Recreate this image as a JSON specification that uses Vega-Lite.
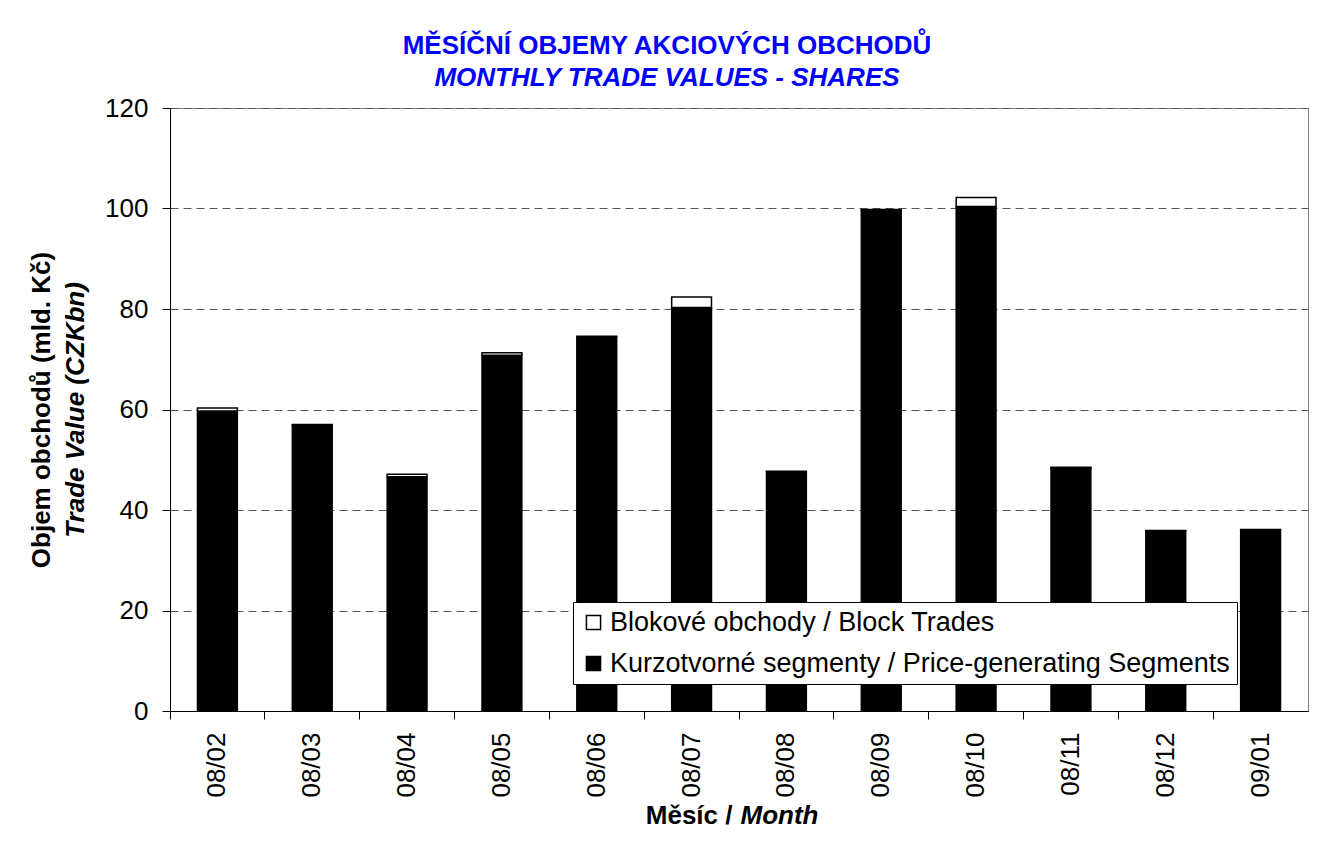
{
  "$schema": "https://vega.github.io/schema/vega-lite/v6.json",
  "width": 1138,
  "height": 603,
  "autosize": {"type": "none"},
  "padding": {"left": 170, "top": 108, "right": 18, "bottom": 132},
  "background": "white",
  "config": {
    "font": "Liberation Sans",
    "view": {"stroke": "#808080", "strokeWidth": 1}
  },
  "title": {
    "text": "MĚSÍČNÍ OBJEMY AKCIOVÝCH OBCHODŮ",
    "subtitle": "MONTHLY TRADE VALUES - SHARES",
    "color": "#0000ff",
    "subtitleColor": "#0000ff",
    "font": "Liberation Sans",
    "subtitleFont": "Liberation Sans",
    "fontSize": 26,
    "subtitleFontSize": 26,
    "fontWeight": "bold",
    "subtitleFontWeight": "bold",
    "subtitleFontStyle": "italic",
    "anchor": "middle",
    "frame": "group",
    "dx": -72,
    "offset": 4,
    "subtitlePadding": 6
  },
  "data": {
    "values": [
      {"month": "08/02", "segment": "Kurzotvorné segmenty / Price-generating Segments", "value": 59.7},
      {"month": "08/02", "segment": "Blokové obchody / Block Trades", "value": 0.6},
      {"month": "08/03", "segment": "Kurzotvorné segmenty / Price-generating Segments", "value": 56.9},
      {"month": "08/03", "segment": "Blokové obchody / Block Trades", "value": 0.1},
      {"month": "08/04", "segment": "Kurzotvorné segmenty / Price-generating Segments", "value": 46.6},
      {"month": "08/04", "segment": "Blokové obchody / Block Trades", "value": 0.5},
      {"month": "08/05", "segment": "Kurzotvorné segmenty / Price-generating Segments", "value": 70.8},
      {"month": "08/05", "segment": "Blokové obchody / Block Trades", "value": 0.5},
      {"month": "08/06", "segment": "Kurzotvorné segmenty / Price-generating Segments", "value": 74.5},
      {"month": "08/06", "segment": "Blokové obchody / Block Trades", "value": 0.1},
      {"month": "08/07", "segment": "Kurzotvorné segmenty / Price-generating Segments", "value": 80.3},
      {"month": "08/07", "segment": "Blokové obchody / Block Trades", "value": 2.1},
      {"month": "08/08", "segment": "Kurzotvorné segmenty / Price-generating Segments", "value": 47.6},
      {"month": "08/08", "segment": "Blokové obchody / Block Trades", "value": 0.1},
      {"month": "08/09", "segment": "Kurzotvorné segmenty / Price-generating Segments", "value": 99.6},
      {"month": "08/09", "segment": "Blokové obchody / Block Trades", "value": 0.2},
      {"month": "08/10", "segment": "Kurzotvorné segmenty / Price-generating Segments", "value": 100.4},
      {"month": "08/10", "segment": "Blokové obchody / Block Trades", "value": 1.8},
      {"month": "08/11", "segment": "Kurzotvorné segmenty / Price-generating Segments", "value": 48.4},
      {"month": "08/11", "segment": "Blokové obchody / Block Trades", "value": 0.1},
      {"month": "08/12", "segment": "Kurzotvorné segmenty / Price-generating Segments", "value": 35.8},
      {"month": "08/12", "segment": "Blokové obchody / Block Trades", "value": 0.1},
      {"month": "09/01", "segment": "Kurzotvorné segmenty / Price-generating Segments", "value": 36.0},
      {"month": "09/01", "segment": "Blokové obchody / Block Trades", "value": 0.1}
    ]
  },
  "layer": [
    {
      "mark": {"type": "bar", "stroke": "black", "strokeWidth": 1.5, "width": {"band": 0.42}},
      "encoding": {
        "x": {
          "field": "month",
          "type": "ordinal",
          "sort": null,
          "scale": {"paddingInner": 0, "paddingOuter": 0},
          "axis": {
            "title": "Měsíc /",
            "titleFontSize": 26,
            "titleFontWeight": "bold",
            "titleColor": "black",
            "titleAlign": "right",
            "titleBaseline": "middle",
            "titleX": 562,
            "titleY": 104,
            "labelAngle": -90,
            "labelFontSize": 26,
            "labelColor": "black",
            "labelPadding": 21,
            "ticks": false,
            "tickSize": 0,
            "domainColor": "black",
            "domainWidth": 1,
            "grid": false
          }
        },
        "y": {
          "field": "value",
          "type": "quantitative",
          "stack": "zero",
          "scale": {"domain": [0, 120], "nice": false},
          "axis": {
            "values": [0, 20, 40, 60, 80, 100, 120],
            "title": "Objem obchodů (mld. Kč)",
            "titleFontSize": 26,
            "titleFontWeight": "bold",
            "titleColor": "black",
            "titleBaseline": "middle",
            "titleX": -129,
            "labelFontSize": 26,
            "labelColor": "black",
            "labelPadding": 14,
            "tickSize": 8,
            "tickColor": "black",
            "domainColor": "black",
            "grid": true,
            "gridDash": [8, 5],
            "gridColor": "#555555",
            "gridWidth": 1
          }
        },
        "color": {
          "field": "segment",
          "type": "nominal",
          "scale": {
            "domain": ["Blokové obchody / Block Trades", "Kurzotvorné segmenty / Price-generating Segments"],
            "range": ["white", "black"]
          },
          "legend": {
            "orient": "none",
            "legendX": 403,
            "legendY": 494,
            "title": null,
            "fillColor": "white",
            "strokeColor": "black",
            "padding": 7,
            "labelFontSize": 27,
            "labelColor": "black",
            "labelLimit": 1000,
            "labelOffset": 3,
            "symbolType": "square",
            "symbolSize": 200,
            "symbolStrokeColor": "black",
            "symbolStrokeWidth": 1.5,
            "symbolOpacity": 1,
            "rowPadding": 13
          }
        },
        "order": {"field": "segment", "sort": "descending"}
      }
    },
    {
      "mark": {"type": "bar", "opacity": 0, "width": {"band": 0.42}},
      "encoding": {
        "x": {
          "field": "month",
          "type": "ordinal",
          "sort": null,
          "axis": {
            "orient": "bottom",
            "title": "Month",
            "titleFontSize": 26,
            "titleFontWeight": "bold",
            "titleFontStyle": "italic",
            "titleColor": "black",
            "titleAlign": "left",
            "titleBaseline": "middle",
            "titleX": 570,
            "titleY": 104,
            "labels": false,
            "domain": false,
            "grid": false,
            "ticks": true,
            "tickSize": 8,
            "tickColor": "black",
            "bandPosition": 0
          }
        },
        "y": {
          "field": "value",
          "type": "quantitative",
          "stack": null,
          "axis": {
            "orient": "left",
            "title": "Trade Value (CZKbn)",
            "titleFontSize": 26,
            "titleFontWeight": "bold",
            "titleFontStyle": "italic",
            "titleColor": "black",
            "titleBaseline": "middle",
            "titleX": -95,
            "labels": false,
            "ticks": false,
            "domain": false,
            "grid": false
          }
        }
      }
    }
  ],
  "resolve": {"axis": {"x": "independent", "y": "independent"}}
}
